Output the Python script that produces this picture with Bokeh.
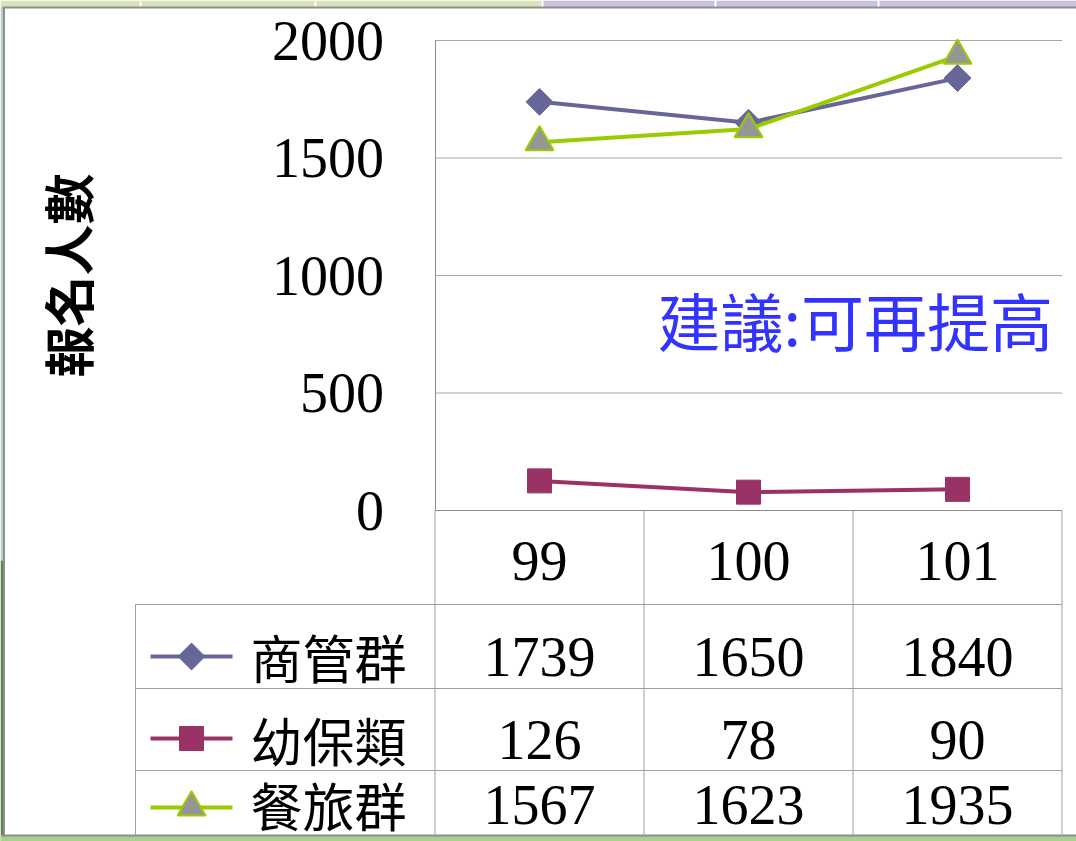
import math
from bokeh.plotting import figure
from bokeh.models import Range1d, FixedTicker, Label, LinearAxis
from bokeh.core.properties import value
from bokeh.embed import file_html
from bokeh.resources import INLINE

# ---------------- data ----------------
years = ["99", "100", "101"]
series_names = ["商管群", "幼保類", "餐旅群"]
shangguan = [1739, 1650, 1840]
youbao = [126, 78, 90]
canlu = [1567, 1623, 1935]
y_ticks = [0, 500, 1000, 1500, 2000]
y_title = "報名人數"
note_text = "建議:可再提高"

# ---------------- styles / layout ----------------
W, H = 1076, 841
NUM_FONT = "Liberation Serif"
CJK_FONT = "Noto Sans CJK TC"
GRID = "#A6A6A6"
DARK = "#8C8C8C"
C_SG = "#666699"
C_YB = "#993366"
C_CL = "#99CC00"
C_CL_FILL = "#969696"
LW = 4

COL = 209.0          # px per category
X_ORIGIN = 539.0     # px of first category
PX_PER_VAL = 0.235   # px per value unit
Y_ZERO = 510.0       # px of value 0

X0 = -X_ORIGIN / COL
X1 = (W - X_ORIGIN) / COL
Y0 = -(H - Y_ZERO) / PX_PER_VAL
Y1 = Y_ZERO / PX_PER_VAL

xs = list(range(len(years)))

p = figure(width=W, height=H, output_backend="svg", toolbar_location=None,
           x_range=Range1d(X0, X1), y_range=Range1d(Y0, Y1),
           x_axis_type=None, y_axis_type=None, min_border=0)
p.extra_y_ranges = {"tab": Range1d(H, 0)}
p.outline_line_color = None
p.background_fill_color = "white"
p.border_fill_color = "white"

def px(xpix):
    return (xpix - X_ORIGIN) / COL

# ---- slide background around the chart ----
p.quad(left=[X0], right=[px(542)], top=[0], bottom=[7], y_range_name="tab",
       fill_color="#D8E4BC", line_color=None)
p.quad(left=[px(542)], right=[X1], top=[0], bottom=[7], y_range_name="tab",
       fill_color="#CCC1DA", line_color=None)
sep = [px(140), px(315), px(542), px(715), px(878)]
p.segment(x0=sep, y0=[0] * 5, x1=sep, y1=[7] * 5, y_range_name="tab",
          line_color="white", line_width=2)
p.quad(left=[X0], right=[px(3)], top=[7], bottom=[560], y_range_name="tab",
       fill_color="#B9CDCB", line_color=None)
p.quad(left=[X0], right=[px(3)], top=[560], bottom=[H], y_range_name="tab",
       fill_color="#5F824F", line_color=None)
p.segment(x0=[px(2)], y0=[7], x1=[X1], y1=[7], y_range_name="tab",
          line_color="#8E8E8E", line_width=2)
p.segment(x0=[px(3.5)], y0=[7], x1=[px(3.5)], y1=[835], y_range_name="tab",
          line_color="#8E8E8E", line_width=2)

# ---- value grid ----
p.segment(x0=[-0.5] * len(y_ticks), y0=y_ticks, x1=[2.5] * len(y_ticks), y1=y_ticks,
          line_color=GRID, line_width=1)

# ---- y axis inside the frame ----
ax = LinearAxis(fixed_location=-0.5, ticker=FixedTicker(ticks=y_ticks), bounds=(0, 2000))
ax.major_label_text_font = NUM_FONT
ax.major_label_text_font_size = "56px"
ax.major_label_text_color = "black"
ax.major_tick_out = 0
ax.major_tick_in = 0
ax.minor_tick_out = 0
ax.minor_tick_in = 0
ax.major_tick_line_color = None
ax.minor_tick_line_color = None
ax.major_label_standoff = 51
ax.axis_line_color = DARK
ax.axis_label = y_title
ax.axis_label_text_font = CJK_FONT
ax.axis_label_text_font_size = "51px"
ax.axis_label_text_font_style = "bold"
ax.axis_label_text_color = "black"
ax.axis_label_standoff = 166
p.add_layout(ax, "left")

# ---- series ----
p.line(xs, shangguan, line_color=C_SG, line_width=LW)
p.scatter(xs, shangguan, marker="square", angle=math.pi / 4, size=19,
          fill_color=C_SG, line_color=C_SG)
p.line(xs, youbao, line_color=C_YB, line_width=LW)
p.scatter(xs, youbao, marker="square", size=24, fill_color=C_YB, line_color=C_YB)
p.line(xs, canlu, line_color=C_CL, line_width=LW)
p.scatter(xs, canlu, marker="triangle", size=28, fill_color=C_CL_FILL,
          line_color=C_CL, line_width=2)

p.add_layout(Label(x=px(657), y=817, text=note_text, text_font=CJK_FONT,
                   text_font_size="63px", text_color="#3333FF",
                   text_align="left", text_baseline="middle"))

# ---------------- data table (y in pixel rows) ----------------
legend_left = px(135)
row_lines = [604, 688, 770]
row_centers = [656, 739, 804]
header_center = 560
bottom_edge = 835
TLINE = "#A0A0A0"

t_kw = dict(y_range_name="tab")

# slide edge at the bottom
p.quad(left=[X0], right=[X1], top=[bottom_edge], bottom=[H],
       fill_color="#A9D08E", line_color=None, **t_kw)
p.segment(x0=[px(2)], y0=[bottom_edge], x1=[X1], y1=[bottom_edge],
          line_color="#8E8E8E", line_width=2, **t_kw)

p.segment(x0=[-0.5], y0=[Y_ZERO], x1=[2.5], y1=[Y_ZERO], line_color=DARK, line_width=1, **t_kw)
p.segment(x0=[legend_left] * 3, y0=row_lines, x1=[2.5] * 3, y1=row_lines,
          line_color=TLINE, line_width=1, **t_kw)
vx = [-0.5, 0.5, 1.5, 2.5]
p.segment(x0=vx, y0=[Y_ZERO] * 4, x1=vx, y1=[bottom_edge] * 4, line_color=TLINE,
          line_width=1, **t_kw)
p.segment(x0=[legend_left], y0=[row_lines[0]], x1=[legend_left], y1=[bottom_edge],
          line_color=TLINE, line_width=1, **t_kw)

p.text(x=xs, y=[header_center] * 3, text=years, text_font=value(NUM_FONT),
       text_font_size="56px", text_color="black", text_align="center",
       text_baseline="middle", **t_kw)

for vals, yc in zip([shangguan, youbao, canlu], row_centers):
    p.text(x=xs, y=[yc] * 3, text=[str(v) for v in vals], text_font=value(NUM_FONT),
           text_font_size="56px", text_color="black", text_align="center",
           text_baseline="middle", **t_kw)

lx0, lx1 = px(150), px(232)
lxm = (lx0 + lx1) / 2
legend_y = [656, 738, 807]
for col, yc in zip([C_SG, C_YB, C_CL], legend_y):
    p.segment(x0=[lx0], y0=[yc], x1=[lx1], y1=[yc], line_color=col, line_width=LW, **t_kw)
p.scatter([lxm], [legend_y[0]], marker="square", angle=math.pi / 4, size=19,
          fill_color=C_SG, line_color=C_SG, **t_kw)
p.scatter([lxm], [legend_y[1]], marker="square", size=24, fill_color=C_YB,
          line_color=C_YB, **t_kw)
p.scatter([lxm], [legend_y[2]], marker="triangle", size=28, fill_color=C_CL_FILL,
          line_color=C_CL, line_width=2, **t_kw)

p.text(x=[px(250)] * 3, y=row_centers, text=series_names,
       text_font=value(CJK_FONT), text_font_size="52px", text_color="black",
       text_align="left", text_baseline="middle", **t_kw)

open("out.html", "w").write(file_html(p, INLINE))
